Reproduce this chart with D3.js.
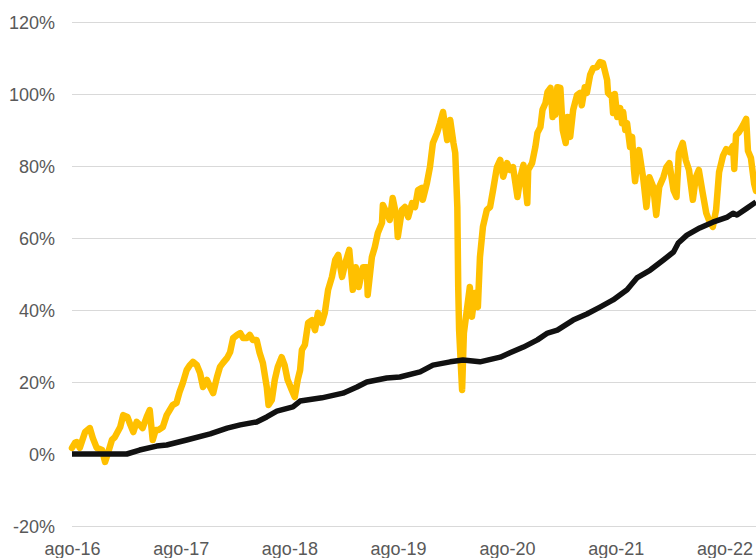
<!DOCTYPE html>
<html>
<head>
<meta charset="utf-8">
<script src="https://cdn.jsdelivr.net/npm/d3@7"></script>
<style>
  body { margin: 0; background: #fff; }
  svg { display: block; font-family: "Liberation Sans", Arial, sans-serif; }
</style>
</head>
<body>
<div id="chart"></div>
<script>
// Fund (yellow) - cumulative return, %
const fundDates = [
  "2016-08-01","2016-08-11","2016-08-17","2016-08-27","2016-09-14","2016-09-30","2016-10-10","2016-10-23",
  "2016-11-10","2016-11-20","2016-11-30","2016-12-13","2016-12-23","2017-01-10","2017-01-20","2017-02-03",
  "2017-02-13","2017-02-23","2017-03-06","2017-03-16","2017-03-26","2017-04-09","2017-04-19","2017-04-29",
  "2017-05-09","2017-05-19","2017-06-02","2017-06-15","2017-06-25","2017-07-05","2017-07-18","2017-07-28",
  "2017-08-08","2017-08-21","2017-09-01","2017-09-11","2017-09-24","2017-10-05","2017-10-15","2017-10-28",
  "2017-11-08","2017-11-18","2017-12-01","2017-12-11","2017-12-21","2018-01-04","2018-01-14","2018-01-24",
  "2018-02-07","2018-02-17","2018-02-27","2018-03-11","2018-03-21","2018-03-31","2018-04-13","2018-04-23",
  "2018-05-04","2018-05-17","2018-05-23","2018-06-03","2018-06-13","2018-06-23","2018-07-06","2018-07-16",
  "2018-07-26","2018-08-09","2018-08-19","2018-08-29","2018-09-06","2018-09-12","2018-09-22","2018-10-03",
  "2018-10-16","2018-10-26","2018-11-05","2018-11-18","2018-11-28","2018-12-09","2018-12-22","2019-01-02",
  "2019-01-12","2019-01-25","2019-02-05","2019-02-18","2019-03-02","2019-03-12","2019-03-22","2019-04-05",
  "2019-04-18","2019-04-21","2019-05-05","2019-05-15","2019-05-25","2019-06-08","2019-06-11","2019-06-24",
  "2019-07-04","2019-07-14","2019-07-27","2019-07-31","2019-08-14","2019-08-24","2019-09-04","2019-09-17",
  "2019-09-27","2019-10-07","2019-10-20","2019-10-23","2019-11-06","2019-11-16","2019-11-26","2019-12-10",
  "2019-12-20","2019-12-30","2020-01-13","2020-01-23","2020-02-03","2020-02-09","2020-02-16","2020-02-19",
  "2020-02-22","2020-03-03","2020-03-09","2020-03-19","2020-03-29","2020-04-05","2020-04-15","2020-04-25",
  "2020-05-02","2020-05-12","2020-05-25","2020-06-05","2020-06-15","2020-06-28","2020-07-09","2020-07-19",
  "2020-08-01","2020-08-11","2020-08-21","2020-09-05","2020-09-15","2020-09-25","2020-10-08","2020-10-11",
  "2020-10-24","2020-11-04","2020-11-11","2020-11-21","2020-11-28","2020-12-08","2020-12-15","2020-12-25",
  "2021-01-01","2021-01-04","2021-01-10","2021-01-17","2021-01-27","2021-02-04","2021-02-14","2021-02-20",
  "2021-02-24","2021-03-01","2021-03-11","2021-03-24","2021-04-03","2021-04-09","2021-04-19","2021-04-26",
  "2021-05-07","2021-05-17","2021-05-30","2021-06-09","2021-06-19","2021-07-03","2021-07-06","2021-07-19",
  "2021-07-23","2021-07-29","2021-08-06","2021-08-16","2021-08-22","2021-08-26","2021-09-02","2021-09-08",
  "2021-09-18","2021-09-25","2021-10-01","2021-10-05","2021-10-15","2021-10-18","2021-11-02","2021-11-12",
  "2021-11-22","2021-12-05","2021-12-15","2021-12-25","2022-01-08","2022-01-18","2022-01-28","2022-02-11",
  "2022-02-21","2022-03-01","2022-03-14","2022-03-24","2022-04-04","2022-04-17","2022-04-27","2022-05-07",
  "2022-05-20","2022-06-01","2022-06-10","2022-06-23","2022-07-04","2022-07-14","2022-07-27","2022-08-07",
  "2022-08-17","2022-08-30","2022-09-03","2022-09-09","2022-09-19","2022-10-03","2022-10-13","2022-10-19",
  "2022-10-29","2022-11-09","2022-11-15"
];
const fundValues = [
  1.7, 3.1, 3.3, 1.7, 6.1, 7.2, 4.4, 1.7,
  1.1, -2.2, 0.3, 3.9, 4.7, 7.5, 10.8, 10.3,
  8.1, 6.1, 8.9, 8.1, 7.2, 10.3, 12.2, 3.9,
  6.7, 6.7, 7.5, 10.8, 12.2, 13.6, 14.2, 17.2,
  19.7, 23.3, 24.7, 25.6, 24.7, 22.5, 18.6, 20.6,
  18.6, 16.9, 21.4, 24.2, 25.3, 26.7, 28.3, 32.2,
  33.1, 33.6, 32.2, 32.2, 33.1, 31.7, 31.7, 28.1,
  25.3, 18.6, 13.6, 15.0, 20.6, 24.2, 26.9, 24.7,
  20.6, 17.8, 15.8, 20.6, 23.3, 28.9, 30.3, 36.4,
  37.2, 34.4, 39.2, 36.4, 39.2, 45.6, 49.2, 53.9,
  55.3, 49.2, 53.1, 56.7, 45.6, 51.9, 46.4, 51.9,
  51.9, 44.2, 54.7, 57.5, 61.4, 64.2, 69.2, 66.9,
  65.0, 71.1, 65.8, 60.3, 67.8, 68.6, 65.8, 69.7,
  68.6, 73.3, 73.9, 70.6, 75.3, 79.7, 86.4, 89.2,
  91.9, 95.0, 87.2, 92.8, 86.4, 83.6, 68.6, 46.4,
  34.4, 17.8, 33.6, 40.0, 46.4, 38.1, 44.7, 40.8,
  54.7, 63.1, 67.8, 68.6, 73.3, 79.7, 81.7, 77.0,
  80.8, 78.9, 79.7, 71.4, 77.0, 80.3, 69.7, 78.9,
  80.8, 85.3, 89.2, 90.8, 95.6, 97.5, 100.6, 101.7,
  93.6, 97.5, 94.2, 101.9, 101.7, 90.0, 86.4, 93.6,
  90.0, 88.1, 95.6, 99.7, 100.3, 96.9, 101.9, 100.3,
  105.3, 107.2, 107.5, 108.9, 108.6, 103.9, 100.3, 99.2,
  94.7, 100.0, 93.6, 96.1, 91.9, 95.0, 90.0, 91.9,
  85.3, 88.1, 79.2, 75.8, 83.6, 84.4, 76.1, 68.6,
  76.9, 74.2, 66.4, 74.2, 76.9, 79.7, 80.8, 73.3,
  71.4, 83.6, 86.4, 81.7, 78.9, 70.6, 76.9, 78.9,
  72.5, 66.9, 65.0, 63.1, 67.8, 78.3, 82.8, 84.7,
  83.9, 85.6, 79.2, 88.6, 89.4, 91.4, 93.1, 84.2,
  82.2, 75.0, 73.1
];

// Benchmark (black) - cumulative return, %
const benchDates = [
  "2016-08-01","2017-02-01","2017-03-16","2017-05-12","2017-06-15","2017-08-21","2017-11-08","2018-01-04",
  "2018-02-17","2018-04-13","2018-05-17","2018-06-20","2018-08-13","2018-09-06","2018-11-18","2019-01-28",
  "2019-03-16","2019-04-18","2019-06-24","2019-08-07","2019-10-14","2019-11-26","2020-01-23","2020-03-06",
  "2020-05-02","2020-07-09","2020-08-11","2020-09-25","2020-11-11","2020-12-15","2021-01-17","2021-03-11",
  "2021-04-26","2021-06-09","2021-07-23","2021-09-08","2021-10-11","2021-11-25","2022-01-08","2022-02-11",
  "2022-02-27","2022-03-28","2022-05-10","2022-06-23","2022-08-11","2022-08-30","2022-09-12","2022-10-16",
  "2022-11-15"
];
const benchValues = [
  0, 0, 1.1, 2.2, 2.5, 3.9, 5.6, 7.2,
  8.1, 8.9, 10.3, 11.9, 13.1, 14.7, 15.6, 16.9,
  18.6, 20.0, 21.1, 21.4, 22.8, 24.7, 25.6, 26.1,
  25.6, 26.9, 28.1, 29.7, 31.7, 33.6, 34.4, 37.2,
  38.9, 40.8, 42.8, 45.6, 48.9, 51.1, 53.9, 56.1,
  58.6, 60.8, 62.8, 64.4, 65.8, 66.9, 66.4, 68.3,
  70.0
];

const xTickDates = ["2016-08-01","2017-08-01","2018-08-01","2019-08-01","2020-08-01","2021-08-01","2022-08-01"];
const xTickLabels = ["ago-16","ago-17","ago-18","ago-19","ago-20","ago-21","ago-22"];
const yTicks = [-20, 0, 20, 40, 60, 80, 100, 120];

const width = 756, height = 558;
const margin = { top: 22, right: 0, bottom: 32, left: 72 };
const parse = d3.timeParse("%Y-%m-%d");

const svg = d3.select("#chart").append("svg")
  .attr("width", width)
  .attr("height", height);

const x = d3.scaleTime()
  .domain([parse("2016-08-01"), parse("2022-11-15")])
  .range([margin.left, width - margin.right]);

const y = d3.scaleLinear()
  .domain([-20, 120])
  .range([height - margin.bottom, margin.top]);

// y axis + gridlines
const yAxis = svg.append("g")
  .attr("transform", `translate(${margin.left},0)`)
  .call(d3.axisLeft(y)
    .tickValues(yTicks)
    .tickSize(-(width - margin.left - margin.right))
    .tickPadding(17)
    .tickFormat(d => d + "%"));
yAxis.select(".domain").remove();
yAxis.selectAll("line").attr("stroke", "#d9d9d9");
yAxis.selectAll("text")
  .attr("fill", "#595959")
  .attr("font-size", 18)
  .attr("dy", "0.36em");

// x axis labels
const xAxis = svg.append("g")
  .attr("transform", `translate(0,542)`)
  .call(d3.axisBottom(x)
    .tickValues(xTickDates.map(parse))
    .tickSize(0)
    .tickPadding(0)
    .tickFormat((d, i) => xTickLabels[i]));
xAxis.select(".domain").remove();
xAxis.selectAll("text")
  .attr("fill", "#595959")
  .attr("font-size", 18);

const fund = fundDates.map((d, i) => ({ date: parse(d), value: fundValues[i] }));
const bench = benchDates.map((d, i) => ({ date: parse(d), value: benchValues[i] }));

const line = d3.line()
  .x(d => x(d.date))
  .y(d => y(d.value));

svg.append("path")
  .datum(fund)
  .attr("fill", "none")
  .attr("stroke", "#ffc000")
  .attr("stroke-width", 6.5)
  .attr("stroke-linejoin", "round")
  .attr("stroke-linecap", "round")
  .attr("d", line);

svg.append("path")
  .datum(bench)
  .attr("fill", "none")
  .attr("stroke", "#111111")
  .attr("stroke-width", 5.5)
  .attr("stroke-linejoin", "round")
  .attr("d", line);
</script>
</body>
</html>
